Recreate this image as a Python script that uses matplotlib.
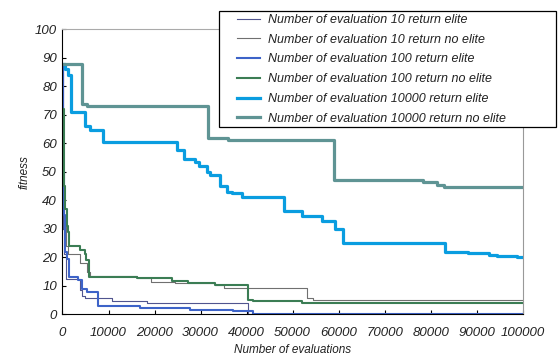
import matplotlib
matplotlib.use("Agg")
import matplotlib.pyplot as plt
from matplotlib.patches import Rectangle

plt.rcParams['font.family'] = ['Liberation Sans', 'DejaVu Sans']

# number of evaluations 10, return elite
x_10_elite = [0, 100, 200, 400, 700, 3800, 4200, 4900, 10700, 18300, 40400, 100000]
y_10_elite = [88, 45, 30, 21, 12.5, 8.5, 6.5, 5.6, 4.8, 3.9, 0, 0]

# number of evaluations 10, return no elite
x_10_noelite = [0, 150, 300, 800, 1300, 3800, 5300, 6000, 16100, 19200, 24500, 33200, 35000, 53200, 54400, 100000]
y_10_noelite = [88, 40, 31, 24, 21, 18, 15, 13.4, 12.7, 11.5, 10.9, 10.3, 9.1, 5.6, 4.9, 4.9]

# number of evaluations 100, return elite
x_100_elite = [0, 100, 250, 500, 900, 1400, 3400, 4200, 5300, 7700, 16800, 27700, 37100, 41400, 100000]
y_100_elite = [88, 50, 35, 22, 19.5, 13.2, 12, 9, 8, 3, 2.1, 1.5, 1, 0, 0]

# number of evaluations 100, return no elite
x_100_noelite = [0, 300, 600, 900, 1200, 1500, 3800, 4800, 5200, 5800, 16100, 23700, 27300, 33200, 40400, 41500, 52000, 100000]
y_100_noelite = [72, 45, 37, 31, 29, 24, 22.6, 21, 19, 13.2, 12.7, 11.8, 11.1, 10.3, 5, 4.7, 3.8, 3.8]

# number of evaluations 10000, return elite
x_10000_elite = [0, 600, 1300, 1850, 4900, 6000, 8700, 24800, 26300, 28800, 29700, 31300, 32100, 34200,
                 35700, 36800, 39000, 48200, 52000, 56300, 59200, 61000, 83200, 88200, 92600, 94400, 98700, 100000]
y_10000_elite = [88, 86, 84, 71, 66.2, 64.7, 60.6, 57.7, 54.5, 53.6, 51.9, 50.1, 49, 44.9,
                 43.1, 42.7, 41, 36.1, 34.5, 32.6, 30.1, 25, 22, 21.4, 20.8, 20.5, 20.2, 20.2]

# number of evaluations 10000, return no elite
x_10000_noelite = [0, 4300, 5400, 31600, 36000, 58900, 78400, 81300, 82800, 100000]
y_10000_noelite = [88, 73.7, 73.2, 61.7, 61, 47.2, 46.6, 45.4, 44.8, 44.8]

labels = ["Number of evaluation 10 return elite",
          "Number of evaluation 10 return no elite",
          "Number of evaluation 100 return elite",
          "Number of evaluation 100 return no elite",
          "Number of evaluation 10000 return elite",
          "Number of evaluation 10000 return no elite"]

fig = plt.figure(figsize=(5.58, 3.58), dpi=100)
ax = fig.add_axes([0.112, 0.122, 0.8247, 0.796])

series = [
    (x_10_elite, y_10_elite, '#50558f', 0.8),
    (x_10_noelite, y_10_noelite, '#707070', 0.8),
    (x_100_elite, y_100_elite, '#3d63c8', 1.5),
    (x_100_noelite, y_100_noelite, '#3b7d54', 1.5),
    (x_10000_elite, y_10000_elite, '#0a9de0', 2.3),
    (x_10000_noelite, y_10000_noelite, '#5f9494', 2.3),
]
handles = []
for (xs, ys, c, lw), lab in zip(series, labels):
    h, = ax.plot(xs, ys, drawstyle='steps-post', color=c, lw=lw, label=lab)
    handles.append(h)

ax.set_xlim(0, 100000)
ax.set_ylim(0, 100)
ax.set_xticks(range(0, 100001, 10000))
ax.set_yticks(range(0, 101, 10))
ax.tick_params(direction='in', length=3, width=0.8, labelsize=9.5)
for lab in ax.get_xticklabels() + ax.get_yticklabels():
    lab.set_fontstyle('italic')
    lab.set_color('#222222')
ax.tick_params(axis='x', pad=9)
ax.tick_params(axis='y', pad=4)
ax.spines['top'].set_color('#aaaaaa')
ax.spines['right'].set_color('#999999')
ax.spines['left'].set_color('black')
ax.spines['bottom'].set_color('black')

ax.set_xlabel('Number of evaluations', fontstyle='italic', fontsize=8.5, labelpad=4, color='#222222')
ax.set_ylabel('fitness', fontstyle='italic', fontsize=8.5, labelpad=3, color='#222222')

# legend box sticking out above the axes
box = Rectangle((219 / 558, 1 - 127 / 358), 337 / 558, 116 / 358, transform=fig.transFigure,
                facecolor='white', edgecolor='black', lw=0.9, zorder=5)
fig.add_artist(box)
leg = fig.legend(handles=handles, loc='upper left', bbox_to_anchor=(232 / 558, 1 - 9 / 358),
                 frameon=False, prop={'style': 'italic', 'size': 9},
                 handlelength=1.85, handletextpad=0.65, labelspacing=0.62, borderpad=0.4,
                 borderaxespad=0)
leg.set_zorder(6)
for t in leg.get_texts():
    t.set_color('#222222')

fig.savefig('out.png', dpi=100)
